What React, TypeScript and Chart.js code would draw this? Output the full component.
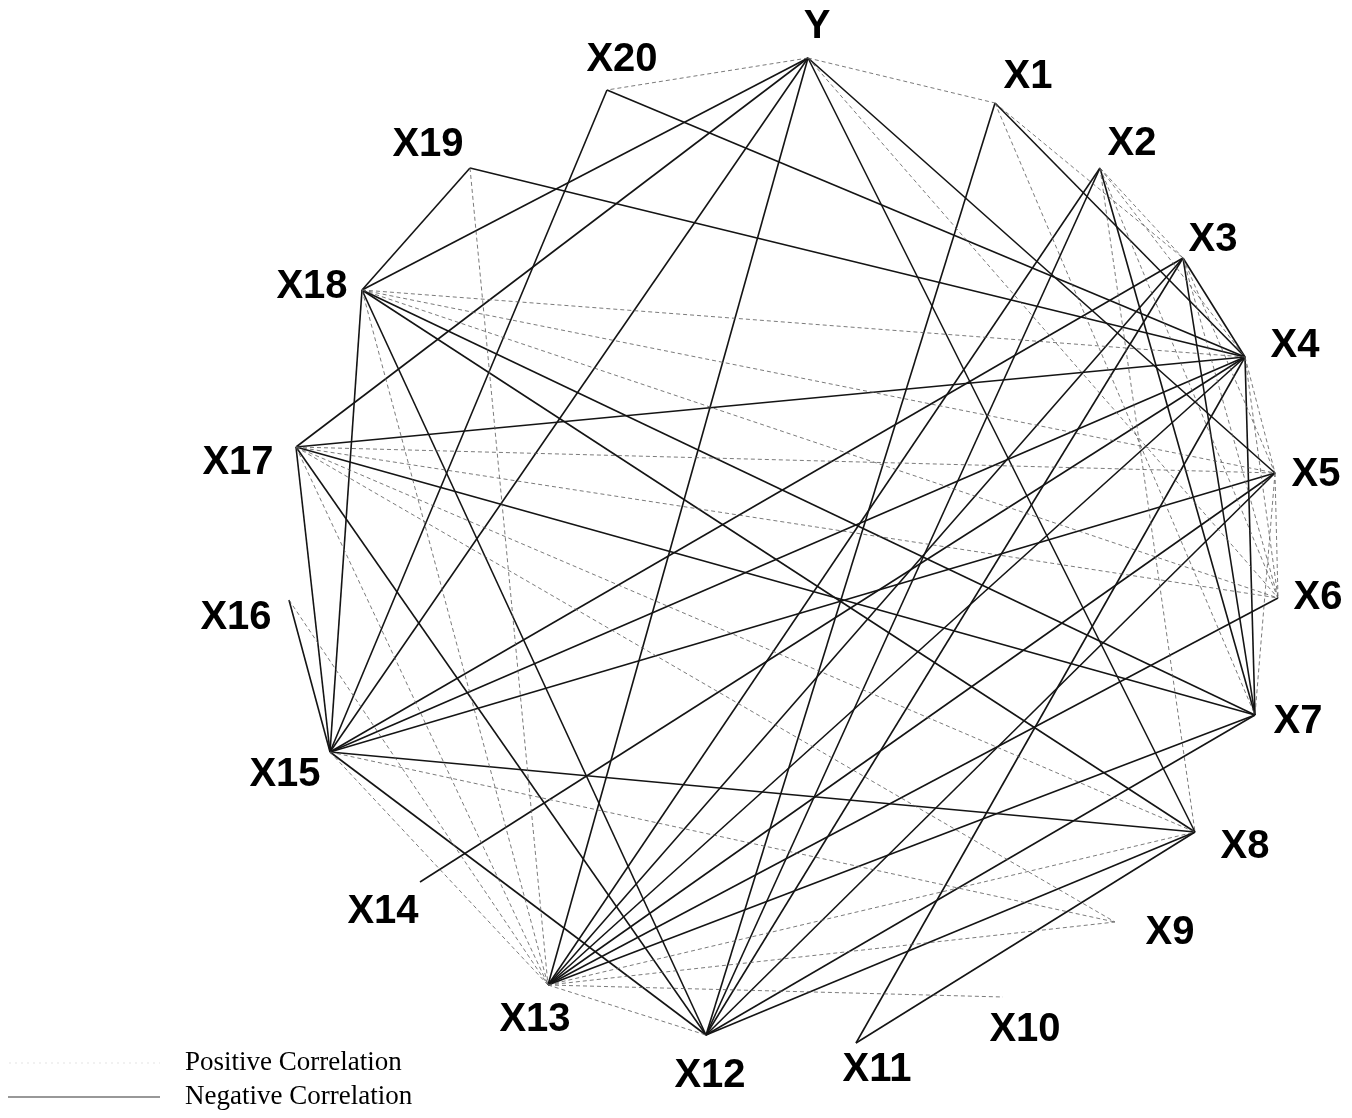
import React, { useEffect, useRef } from "react";
import { Chart, registerables } from "chart.js";

Chart.register(...registerables);

// ---- data ----
const nodeNames = ["Y", "X1", "X2", "X3", "X4", "X5", "X6", "X7", "X8", "X9", "X10", "X11", "X12", "X13", "X14", "X15", "X16", "X17", "X18", "X19", "X20"];
const nodeX = [808, 995, 1100, 1183, 1245, 1275, 1278, 1255, 1195, 1115, 1003, 856, 706, 548, 420, 330, 289, 296, 362, 470, 607];
const nodeY = [58, 103, 168, 258, 357, 473, 598, 715, 832, 922, 997, 1043, 1035, 985, 882, 752, 600, 447, 290, 168, 90];

// negative correlations (dark solid lines)
const negativeEdges: [string, string][] = [
  ["Y", "X18"], ["Y", "X17"], ["Y", "X15"], ["Y", "X13"], ["Y", "X5"], ["Y", "X8"],
  ["X20", "X15"], ["X20", "X4"],
  ["X19", "X18"], ["X19", "X4"],
  ["X18", "X15"], ["X18", "X12"], ["X18", "X7"], ["X18", "X8"],
  ["X17", "X4"], ["X17", "X15"], ["X17", "X12"], ["X17", "X7"],
  ["X16", "X15"],
  ["X15", "X3"], ["X15", "X4"], ["X15", "X5"], ["X15", "X8"], ["X15", "X12"],
  ["X14", "X4"],
  ["X13", "X2"], ["X13", "X3"], ["X13", "X4"], ["X13", "X5"], ["X13", "X6"], ["X13", "X7"],
  ["X12", "X1"], ["X12", "X2"], ["X12", "X3"], ["X12", "X5"], ["X12", "X7"], ["X12", "X8"],
  ["X11", "X4"], ["X11", "X8"],
  ["X1", "X4"],
  ["X3", "X4"], ["X3", "X7"],
  ["X4", "X7"],
  ["X2", "X7"],
];

// positive correlations (light dotted lines)
const positiveEdges: [string, string][] = [
  ["Y", "X20"], ["Y", "X1"], ["Y", "X6"],
  ["X19", "X13"],
  ["X18", "X13"], ["X18", "X4"], ["X18", "X5"], ["X18", "X6"],
  ["X17", "X5"], ["X17", "X6"], ["X17", "X8"], ["X17", "X9"], ["X17", "X13"],
  ["X16", "X13"],
  ["X15", "X13"], ["X15", "X9"],
  ["X13", "X8"], ["X13", "X9"], ["X13", "X10"], ["X13", "X12"],
  ["X1", "X3"], ["X1", "X7"],
  ["X2", "X3"], ["X2", "X4"], ["X2", "X6"], ["X2", "X8"],
  ["X3", "X5"], ["X3", "X6"],
  ["X4", "X5"], ["X4", "X6"],
  ["X5", "X6"], ["X5", "X7"],
];

const legendLabels = ["Positive Correlation", "Negative Correlation"];

// ---- layout (label offsets from node, in px) ----
const labelDx = [9, 33, 32, 30, 50, 41, 40, 43, 50, 55, 22, 21, 4, -13, -37, -45, -53, -58, -50, -42, 15];
const labelDy = [-31, -26, -24, -18, -11, 2, 0, 7, 15, 11, 33, 27, 41, 35, 30, 23, 18, 16, -3, -23, -30];

const NEG_COLOR = "#141414";
const POS_COLOR = "rgba(90,90,90,0.8)";

function pt(name: string) {
  const i = nodeNames.indexOf(name);
  return { x: nodeX[i], y: nodeY[i] };
}

export default function App() {
  const ref = useRef<HTMLCanvasElement | null>(null);

  useEffect(() => {
    if (!ref.current) return;

    const datasets: any[] = [];
    positiveEdges.forEach(([a, b]) => {
      datasets.push({
        data: [pt(a), pt(b)],
        showLine: true,
        borderColor: POS_COLOR,
        borderWidth: 1,
        borderDash: [4, 3],
        pointRadius: 0,
        fill: false,
      });
    });
    negativeEdges.forEach(([a, b]) => {
      datasets.push({
        data: [pt(a), pt(b)],
        showLine: true,
        borderColor: NEG_COLOR,
        borderWidth: 1.6,
        pointRadius: 0,
        fill: false,
      });
    });

    const labelPlugin = {
      id: "nodeLabels",
      afterDatasetsDraw(chart: any) {
        const { ctx, scales } = chart;
        const xs = scales.x;
        const ys = scales.y;
        ctx.save();
        ctx.fillStyle = "#000";
        ctx.font = "bold 40px 'Liberation Sans', Arial, sans-serif";
        ctx.textAlign = "center";
        ctx.textBaseline = "middle";
        nodeNames.forEach((n, i) => {
          const px = xs.getPixelForValue(nodeX[i] + labelDx[i]);
          const py = ys.getPixelForValue(nodeY[i] + labelDy[i]);
          ctx.fillText(n, px, py);
        });
        // legend
        ctx.font = "27px 'Liberation Serif', 'Times New Roman', serif";
        ctx.textAlign = "left";
        const lx = xs.getPixelForValue(185);
        const y1 = ys.getPixelForValue(1063);
        const y2 = ys.getPixelForValue(1097);
        ctx.fillText(legendLabels[0], lx, y1);
        ctx.fillText(legendLabels[1], lx, y2);
        ctx.lineWidth = 1;
        ctx.strokeStyle = "rgba(200,200,200,0.5)";
        ctx.setLineDash([2, 4]);
        ctx.beginPath();
        ctx.moveTo(xs.getPixelForValue(3), y1);
        ctx.lineTo(xs.getPixelForValue(160), y1);
        ctx.stroke();
        ctx.setLineDash([]);
        ctx.lineWidth = 1.2;
        ctx.strokeStyle = "#333";
        ctx.beginPath();
        ctx.moveTo(xs.getPixelForValue(3), y2);
        ctx.lineTo(xs.getPixelForValue(160), y2);
        ctx.stroke();
        ctx.restore();
      },
    };

    const chart = new Chart(ref.current, {
      type: "scatter",
      data: { datasets },
      options: {
        animation: false,
        responsive: false,
        maintainAspectRatio: false,
        layout: { padding: 0 },
        plugins: { legend: { display: false }, tooltip: { enabled: false } },
        scales: {
          x: { type: "linear", min: 8, max: 1344, display: false },
          y: { type: "linear", min: 8, max: 1110, reverse: true, display: false },
        },
      },
      plugins: [labelPlugin],
    });
    return () => chart.destroy();
  }, []);

  return (
    <div style={{ width: 1336, height: 1102 }}>
      <canvas ref={ref} width={1336} height={1102} style={{ display: "block" }} />
    </div>
  );
}
